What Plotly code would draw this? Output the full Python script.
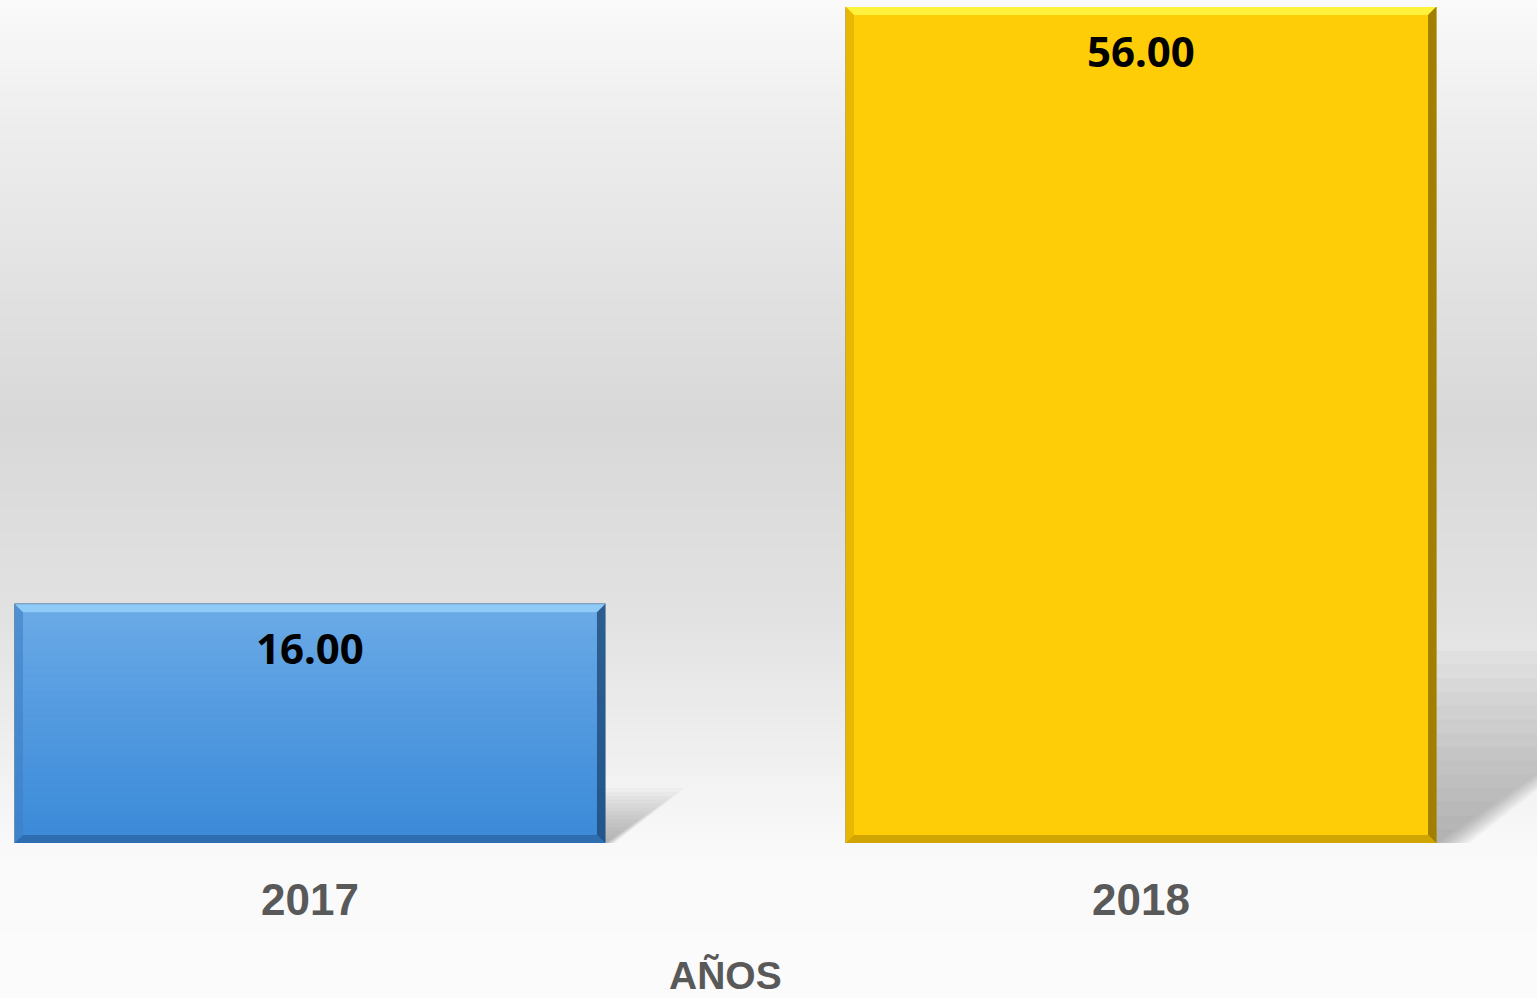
import plotly.graph_objects as go

years = ["2017", "2018"]
values = [16.0, 56.0]
bar_colors = ["#4f96df", "#ffcc08"]
x_title = "AÑOS"

W, H = 1537, 998
ML, MR, MT, MB = 0, 0, 7, 155
x_range = [-0.373, 1.4765]
y_range = [0, 56]
px_x = (W - ML - MR) / (x_range[1] - x_range[0])
px_y = (H - MT - MB) / (y_range[1] - y_range[0])
bar_w = 0.71

fig = go.Figure()
fig.add_trace(go.Bar(
    x=list(range(len(years))), y=values, width=bar_w,
    marker=dict(color=bar_colors, line=dict(color=["#2f5f90", "#a88600"], width=1.2)),
    hoverinfo="skip", showlegend=False,
))

shapes = []
# background vertical gradient
def bg_level(t):
    pts = [(0, 250), (0.12, 238), (0.42, 216), (0.62, 226), (0.86, 250), (1, 251)]
    for (a, ca), (b, cb) in zip(pts, pts[1:]):
        if a <= t <= b:
            return ca + (cb - ca) * (t - a) / (b - a)
    return 250
plot_h = H - MT - MB
N = 120
for k in range(N):
    ypx0 = k * H / N
    ypx1 = (k + 1) * H / N + 1
    c = int(round(bg_level((k + 0.5) / N)))
    shapes.append(dict(type="rect", xref="paper", yref="paper", x0=-0.01, x1=1.01,
                       y0=(H - MB - ypx1) / plot_h, y1=(H - MB - ypx0) / plot_h,
                       fillcolor=f"rgb({c},{c},{c})", line=dict(width=0), layer="below"))

def hexrgb(h):
    h = h.lstrip("#")
    return [int(h[i:i + 2], 16) for i in (0, 2, 4)]

grad = [("#6aaae6", "#3a89d8"), ("#ffcc08", "#ffcc08")]
top_bev = ["#8fcbf6", "#fff23c"]
right_bev = ["#1d4a78", "#8a6c00"]
left_bev = ["#3f7fc4", "#d9a800"]
bot_bev = ["#2b67a6", "#c49a00"]

for i, v in enumerate(values):
    x0, x1 = i - bar_w / 2, i + bar_w / 2
    # soft shadow to the right
    sh_h = 0.23 * v * px_y
    nl = 14
    for s in range(nl):
        f = 1.0 - s / nl
        hh = sh_h * f
        dx = 1.45 * hh / px_x
        hy = hh / px_y
        path = (f"M {x1},{0} L {x1},{hy} L {x1 + dx},{hy} L {x1 + 0.12*dx},{0} Z")
        shapes.append(dict(type="path", xref="x", yref="y", path=path,
                           fillcolor="rgba(80,80,80,0.035)", line=dict(width=0), layer="below"))
    # vertical gradient inside bar
    c0, c1 = hexrgb(grad[i][0]), hexrgb(grad[i][1])
    n = 30
    for k in range(n):
        t = k / (n - 1)
        col = [int(round(c0[j] + (c1[j] - c0[j]) * t)) for j in range(3)]
        shapes.append(dict(type="rect", xref="x", yref="y", x0=x0, x1=x1,
                           y0=v - v * (k + 1) / n, y1=v - v * k / n,
                           fillcolor=f"rgb({col[0]},{col[1]},{col[2]})", line=dict(width=0)))
    bx = 8 / px_x
    by = 8 / px_y
    # bevels
    shapes.append(dict(type="path", xref="x", yref="y",
                       path=f"M {x0},{v} L {x1},{v} L {x1-bx},{v-by} L {x0+bx},{v-by} Z",
                       fillcolor=top_bev[i], line=dict(width=0)))
    shapes.append(dict(type="path", xref="x", yref="y",
                       path=f"M {x1},{v} L {x1},{0} L {x1-bx},{by} L {x1-bx},{v-by} Z",
                       fillcolor=right_bev[i], line=dict(width=0), opacity=0.8))
    shapes.append(dict(type="path", xref="x", yref="y",
                       path=f"M {x0},{v} L {x0},{0} L {x0+bx},{by} L {x0+bx},{v-by} Z",
                       fillcolor=left_bev[i], line=dict(width=0), opacity=0.6))
    shapes.append(dict(type="path", xref="x", yref="y",
                       path=f"M {x0},{0} L {x1},{0} L {x1-bx},{by} L {x0+bx},{by} Z",
                       fillcolor=bot_bev[i], line=dict(width=0), opacity=0.8))

annotations = []
for i, v in enumerate(values):
    annotations.append(dict(x=i, y=v, xref="x", yref="y", text=f"{v:.2f}",
                            showarrow=False, yanchor="middle", yshift=-43,
                            font=dict(family="Noto Sans", size=42, color="#000000", weight="bold")))
annotations.append(dict(x=725 / W, y=(H - MB - 975) / plot_h, xref="paper", yref="paper",
                        text=x_title, showarrow=False, yanchor="middle", xanchor="center",
                        font=dict(family="Liberation Sans", size=39, color="#595959", weight="bold")))

fig.update_layout(
    width=W, height=H,
    margin=dict(l=ML, r=MR, t=MT, b=MB, pad=0),
    paper_bgcolor="#fafafa", plot_bgcolor="rgba(0,0,0,0)",
    shapes=shapes, annotations=annotations,
    xaxis=dict(range=x_range, tickvals=list(range(len(years))), ticktext=years,
               showgrid=False, zeroline=False, showline=False, ticks="",
               ticklabelstandoff=27,
               tickfont=dict(family="Liberation Sans", size=44, color="#595959", weight="bold")),
    yaxis=dict(range=y_range, visible=False, showgrid=False, zeroline=False),
    bargap=0.29,
)

fig.write_html("out.html", config={"displayModeBar": False},
               post_script="document.body.style.margin='0';document.body.style.overflow='hidden';")
